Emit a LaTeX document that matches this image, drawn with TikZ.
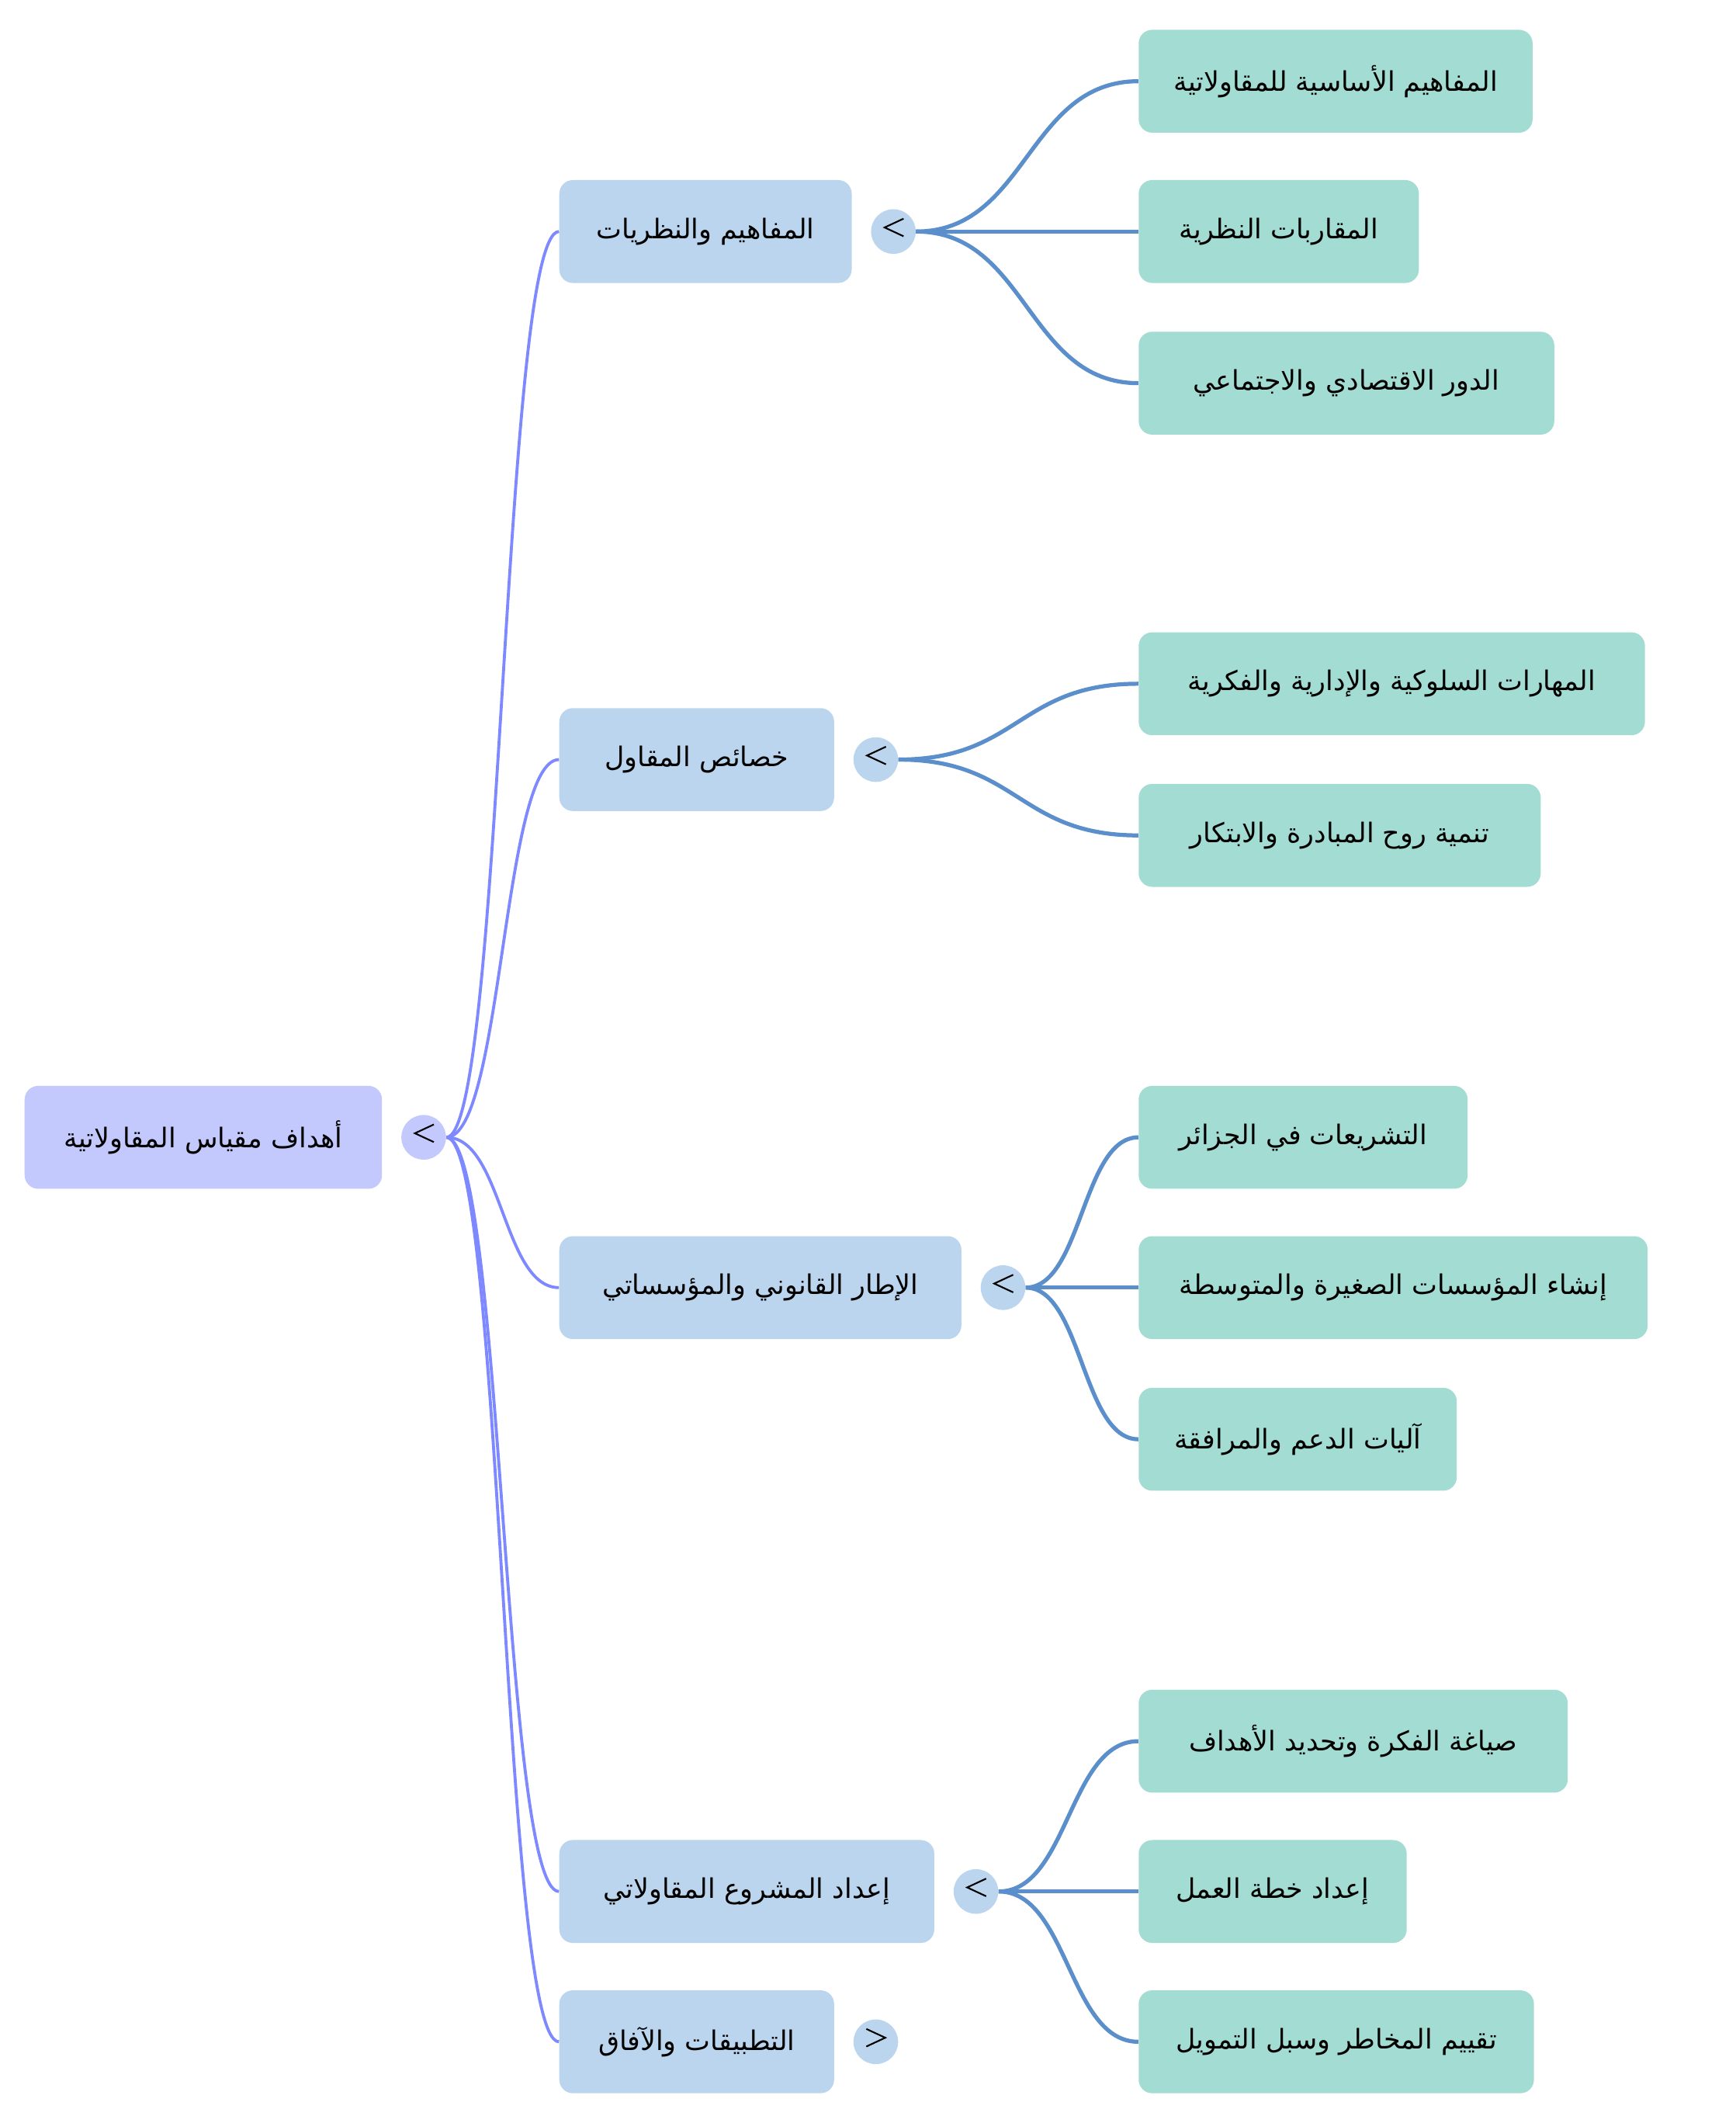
\documentclass[tikz,border=0pt]{standalone}
\usepackage{fontspec}
\usetikzlibrary{calc}
\TeXXeTstate=1
\newfontfamily\arabicfont[Script=Arabic]{DejaVu Sans}
\newcommand\ar[1]{\raisebox{2pt}{\arabicfont\beginR #1\endR}}
\definecolor{rootfill}{HTML}{C4C9FD}
\definecolor{lonefill}{HTML}{BBD5EF}
\definecolor{ltwofill}{HTML}{A3DCD2}
\definecolor{rootedge}{HTML}{7F89FF}
\definecolor{ltwoedge}{HTML}{5B8FCB}
\pgfdeclarelayer{bg}
\pgfsetlayers{bg,main}
\tikzset{
  box/.style={rounded corners=10pt, minimum height=76pt, inner sep=0pt, anchor=west,
    font=\arabicfont\fontsize{20}{24}\selectfont, text=black},
  rootbox/.style={box, fill=rootfill},
  lonebox/.style={box, fill=lonefill},
  ltwobox/.style={box, fill=ltwofill},
  tog/.style={circle, minimum size=33pt, inner sep=0pt},
  roottog/.style={tog, fill=rootfill},
  lonetog/.style={tog, fill=lonefill},
  chev/.style={draw=black, line width=1.2pt},
  rootlink/.style={draw=rootedge, line width=2.2pt},
  ltwolink/.style={draw=ltwoedge, line width=3pt},
}
\newcommand\linkit[3]{\draw[#1] let \p1=(#2), \p2=(#3) in
  (\p1) .. controls ({(\x1+\x2)/2},\y1) and ({(\x1+\x2)/2},\y2) .. (\p2);}
% open chevron "<" and closed chevron ">" inside a toggle node
\newcommand\chevleft[1]{\draw[chev] ($(#1.center)+(7.5,-9.5)$) -- ($(#1.center)+(-6.5,-3)$) -- ($(#1.center)+(7.5,3.5)$);}
\newcommand\chevright[1]{\draw[chev] ($(#1.center)+(-7,-9.5)$) -- ($(#1.center)+(7,-3)$) -- ($(#1.center)+(-7,3.5)$);}
\begin{document}
\begin{tikzpicture}[x=1pt,y=-1pt]
\useasboundingbox (0,0) rectangle (1282,1568);
% root
\node[rootbox, minimum width=264pt] (root) at (18,840) {\ar{أهداف مقياس المقاولاتية}};
\node[roottog] (troot) at (313,840) {};
% level 1
\node[lonebox, minimum width=216pt] (a) at (413,171) {\ar{المفاهيم والنظريات}};
\node[lonetog] (ta) at (660,171) {};
\node[lonebox, minimum width=203pt] (b) at (413,561) {\ar{خصائص المقاول}};
\node[lonetog] (tb) at (647,561) {};
\node[lonebox, minimum width=297pt] (c) at (413,951) {\ar{الإطار القانوني والمؤسساتي}};
\node[lonetog] (tc) at (741,951) {};
\node[lonebox, minimum width=277pt] (d) at (413,1397) {\ar{إعداد المشروع المقاولاتي}};
\node[lonetog] (td) at (721,1397) {};
\node[lonebox, minimum width=203pt] (e) at (413,1508) {\ar{التطبيقات والآفاق}};
\node[lonetog] (te) at (647,1508) {};
% level 2
\node[ltwobox, minimum width=291pt] (a1) at (841,60) {\ar{المفاهيم الأساسية للمقاولاتية}};
\node[ltwobox, minimum width=207pt] (a2) at (841,171) {\ar{المقاربات النظرية}};
\node[ltwobox, minimum width=307pt] (a3) at (841,283) {\ar{الدور الاقتصادي والاجتماعي}};
\node[ltwobox, minimum width=374pt] (b1) at (841,505) {\ar{المهارات السلوكية والإدارية والفكرية}};
\node[ltwobox, minimum width=297pt] (b2) at (841,617) {\ar{تنمية روح المبادرة والابتكار}};
\node[ltwobox, minimum width=243pt] (c1) at (841,840) {\ar{التشريعات في الجزائر}};
\node[ltwobox, minimum width=376pt] (c2) at (841,951) {\ar{إنشاء المؤسسات الصغيرة والمتوسطة}};
\node[ltwobox, minimum width=235pt] (c3) at (841,1063) {\ar{آليات الدعم والمرافقة}};
\node[ltwobox, minimum width=317pt] (d1) at (841,1286) {\ar{صياغة الفكرة وتحديد الأهداف}};
\node[ltwobox, minimum width=198pt] (d2) at (841,1397) {\ar{إعداد خطة العمل}};
\node[ltwobox, minimum width=292pt] (d3) at (841,1508) {\ar{تقييم المخاطر وسبل التمويل}};
% toggle chevrons
\chevleft{troot}
\chevleft{ta}
\chevleft{tb}
\chevleft{tc}
\chevleft{td}
\chevright{te}
\begin{pgfonlayer}{bg}
\foreach \t in {a,b,c,d,e}{\linkit{rootlink}{troot.east}{\t.west}}
\foreach \t in {a1,a2,a3}{\linkit{ltwolink}{ta.east}{\t.west}}
\foreach \t in {b1,b2}{\linkit{ltwolink}{tb.east}{\t.west}}
\foreach \t in {c1,c2,c3}{\linkit{ltwolink}{tc.east}{\t.west}}
\foreach \t in {d1,d2,d3}{\linkit{ltwolink}{td.east}{\t.west}}
\end{pgfonlayer}
\end{tikzpicture}
\end{document}
